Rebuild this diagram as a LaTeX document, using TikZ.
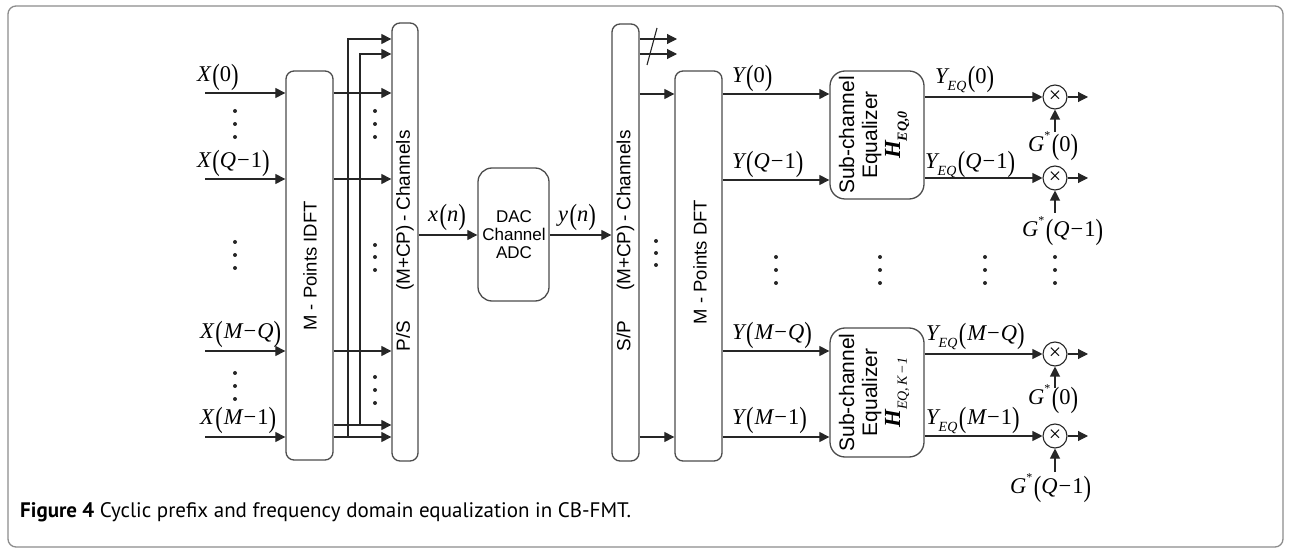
\documentclass[tikz,border=0pt]{standalone}
\usepackage{fontspec}
\usepackage{graphicx}
\setmainfont{Liberation Sans}
\newfontfamily\tmf{Liberation Serif}
\newfontfamily\capfont{PT Sans}
\usetikzlibrary{arrows.meta}
\newcommand{\mylp}{\kern1.5pt\raisebox{-0.12em}{\scalebox{1}[1.3]{(}}}
\newcommand{\myrp}{\raisebox{-0.12em}{\scalebox{1}[1.3]{)}}}
\newcommand{\mns}{\kern1pt−\kern1pt}
\newcommand{\lsub}[1]{\raisebox{-0.3em}{\fontsize{14}{14}\selectfont\itshape #1}}
\newcommand{\lsup}[1]{\raisebox{0.55em}{\fontsize{12}{12}\selectfont #1}}
\tikzset{
  box/.style={draw=black!70, line width=1.3pt, rounded corners=8pt, inner sep=0pt},
  arr/.style={draw=black!85, line width=1.1pt, -{Triangle[length=10pt,width=10pt]}},
  ln/.style={draw=black!85, line width=1.1pt},
  lab/.style={font=\tmf\fontsize{22.5}{22.5}\selectfont, inner sep=0pt},
  btxt/.style={inner sep=0pt, rotate=90},
  mult/.style={circle, draw=black!85, line width=1.1pt, minimum size=24pt, inner sep=0pt, font=\tmf\fontsize{22}{22}\selectfont},
  dotc/.style={fill=black!85}
}
\begin{document}
\begin{tikzpicture}[x=1pt,y=-1pt]
\useasboundingbox (0,0) rectangle (1291,553);
\draw[black!45, line width=1.3pt, rounded corners=8pt] (8,6) rectangle (1283,547);

% blocks
\node[box, minimum width=47pt, minimum height=389pt] (idft) at (309.5,265.5) {};
\node[box, minimum width=26pt, minimum height=438pt] (ps) at (405,242) {};
\node[box, rounded corners=14pt, minimum width=71pt, minimum height=133pt] (dac) at (513.5,234.5) {};
\node[box, minimum width=27pt, minimum height=437pt] (sp) at (625.5,242.5) {};
\node[box, minimum width=47pt, minimum height=390pt] (dft) at (698.5,266) {};
\node[box, rounded corners=15pt, minimum width=94pt, minimum height=128pt] (eq1) at (877,135) {};
\node[box, rounded corners=15pt, minimum width=94pt, minimum height=129pt] (eq2) at (877,392.5) {};

% block texts
\node[btxt, font=\fontsize{18.5}{18.5}\selectfont] (idftt) at (310,266) {M - Points IDFT};
\node[btxt, font=\fontsize{18.5}{18.5}\selectfont] (dftt) at (700,262) {M - Points DFT};
\node[btxt, font=\fontsize{19}{19}\selectfont] (pst) at (405,241) {P/S\hspace{30pt}(M+CP)\hspace{4pt}-\hspace{4pt}Channels};
\node[btxt, font=\fontsize{19}{19}\selectfont] (spt) at (625.5,241) {S/P\hspace{30pt}(M+CP)\hspace{4pt}-\hspace{4pt}Channels};
\node[inner sep=0pt, align=center, font=\fontsize{17}{18}\selectfont] (dact) at (514,234.5) {DAC\\Channel\\ADC};
\node[btxt, align=center, font=\fontsize{21}{23}\selectfont] (eq1t) at (874,135) {Sub-channel\\Equalizer\\[0pt]{\tmf\fontsize{23}{23}\selectfont\bfseries\itshape H\raisebox{-0.3em}{\fontsize{14}{14}\selectfont EQ,0}}};
\node[btxt, align=center, font=\fontsize{21}{23}\selectfont] (eq2t) at (874,392.5) {Sub-channel\\Equalizer\\[0pt]{\tmf\fontsize{23}{23}\selectfont\bfseries\itshape H\raisebox{-0.3em}{\fontsize{14}{14}\selectfont\mdseries EQ,\,K\mns1}}};

% multipliers
\node[mult] (m1) at (1055,97) {×};
\node[mult] (m2) at (1055,178) {×};
\node[mult] (m3) at (1055,354) {×};
\node[mult] (m4) at (1055,436) {×};

% helper levels
\foreach \yy in {39,54,93,94,97,178,179,180,235,351,354,425,436,437}{\coordinate (r\yy) at (0,\yy);}
\coordinate (cpA) at (348,0);
\coordinate (cpB) at (360,0);

% inputs
\coordinate (xin0) at (205,93);
\coordinate (xin1) at (205,179);
\coordinate (xin2) at (205,351);
\coordinate (xin3) at (205,437);
\foreach \i in {0,1,2,3}{\draw[arr] (xin\i) -- (xin\i -| idft.west);}

% IDFT -> P/S
\draw[arr] (idft.east |- r93) -- (ps.west |- r93);
\draw[arr] (idft.east |- r179) -- (ps.west |- r179);
\draw[arr] (idft.east |- r351) -- (ps.west |- r351);
\draw[arr] (idft.east |- r425) -- (ps.west |- r425);
\draw[arr] (idft.east |- r437) -- (ps.west |- r437);
\draw[arr] (cpA |- r437) -- (cpA |- r39) -- (ps.west |- r39);
\draw[arr] (cpB |- r425) -- (cpB |- r54) -- (ps.west |- r54);

% P/S -> DAC -> S/P
\draw[arr] (ps.east |- r235) -- (dac.west |- r235);
\draw[arr] (dac.east |- r235) -- (sp.west |- r235);

% S/P outputs
\coordinate (spo1) at (677,39);
\coordinate (spo2) at (677,54);
\draw[arr] (sp.east |- r39) -- (spo1);
\draw[arr] (sp.east |- r54) -- (spo2);
\coordinate (sl1) at (647,65);
\coordinate (sl2) at (657,28);
\draw[ln] (sl1) -- (sl2);
\draw[arr] (sp.east |- r94) -- (dft.west |- r94);
\draw[arr] (sp.east |- r437) -- (dft.west |- r437);

% DFT -> equalizers
\draw[arr] (dft.east |- r94) -- (eq1.west |- r94);
\draw[arr] (dft.east |- r180) -- (eq1.west |- r180);
\draw[arr] (dft.east |- r351) -- (eq2.west |- r351);
\draw[arr] (dft.east |- r437) -- (eq2.west |- r437);

% equalizers -> multipliers
\draw[arr] (eq1.east |- m1) -- (m1);
\draw[arr] (eq1.east |- m2) -- (m2);
\draw[arr] (eq2.east |- m3) -- (m3);
\draw[arr] (eq2.east |- m4) -- (m4);

% multiplier outputs
\coordinate (o1) at (1088,97);
\coordinate (o2) at (1088,178);
\coordinate (o3) at (1088,354);
\coordinate (o4) at (1088,436);
\draw[arr] (m1) -- (o1);
\draw[arr] (m2) -- (o2);
\draw[arr] (m3) -- (o3);
\draw[arr] (m4) -- (o4);

% G inputs
\coordinate (g1) at (1055,132);
\coordinate (g2) at (1055,213);
\coordinate (g3) at (1055,388);
\coordinate (g4) at (1055,472);
\draw[arr] (g1) -- (m1);
\draw[arr] (g2) -- (m2);
\draw[arr] (g3) -- (m3);
\draw[arr] (g4) -- (m4);

% labels
\node[lab, anchor=south west] (lx0) at (197,91) {\itshape X\upshape\mylp 0\myrp};
\node[lab, anchor=south west] (lx1) at (197,177) {\itshape X\upshape\mylp\itshape Q\upshape\mns 1\myrp};
\node[lab, anchor=south west] (lx2) at (200,348) {\itshape X\upshape\mylp\kern1pt\itshape M\upshape\mns\itshape Q\upshape\myrp};
\node[lab, anchor=south west] (lx3) at (200,434) {\itshape X\upshape\mylp\kern1pt\itshape M\upshape\mns 1\myrp};
\node[lab] (lxn) at (447,217) {\itshape x\upshape\mylp\itshape n\upshape\myrp};
\node[lab] (lyn) at (577,217) {\itshape y\upshape\mylp\itshape n\upshape\myrp};
\node[lab, anchor=south west] (ly0) at (732,92) {\itshape Y\upshape\mylp 0\myrp};
\node[lab, anchor=south west] (ly1) at (732,178) {\itshape Y\upshape\mylp\itshape Q\upshape\mns 1\myrp};
\node[lab, anchor=south west] (ly2) at (732,349) {\itshape Y\upshape\mylp\kern1pt\itshape M\upshape\mns\itshape Q\upshape\myrp};
\node[lab, anchor=south west] (ly3) at (732,434) {\itshape Y\upshape\mylp\kern1pt\itshape M\upshape\mns 1\myrp};
\node[lab, anchor=south west] (le0) at (935,93) {\itshape Y\lsub{EQ}\upshape\mylp 0\myrp};
\node[lab, anchor=south west] (le1) at (925,178) {\itshape Y\lsub{EQ}\upshape\mylp\itshape Q\upshape\mns 1\myrp};
\node[lab, anchor=south west] (le2) at (926,350) {\itshape Y\lsub{EQ}\upshape\mylp\kern1pt\itshape M\upshape\mns\itshape Q\upshape\myrp};
\node[lab, anchor=south west] (le3) at (926,434) {\itshape Y\lsub{EQ}\upshape\mylp\kern1pt\itshape M\upshape\mns 1\myrp};
\node[lab, anchor=south west] (lg1) at (1028,161) {\itshape G\upshape\lsup{*}\mylp 0\myrp};
\node[lab, anchor=south west] (lg2) at (1022,246) {\itshape G\upshape\lsup{*}\mylp\itshape Q\upshape\mns 1\myrp};
\node[lab, anchor=south west] (lg3) at (1028,414) {\itshape G\upshape\lsup{*}\mylp 0\myrp};
\node[lab, anchor=south west] (lg4) at (1010,503) {\itshape G\upshape\lsup{*}\mylp\itshape Q\upshape\mns 1\myrp};

% dots
\foreach \x/\y in {235/111,235/124,235/137, 235/242,235/255,235/268, 235/373,235/386,235/399,
                   375/111,375/124,375/137, 375/245,375/257,375/270, 375/377,375/390,375/403,
                   656/241,656/253,656/265,
                   776/257,776/270,776/283, 880/257,880/270,880/283, 985/257,985/270,985/283, 1055/257,1055/270,1055/283}
  {\fill[dotc] (\x,\y) circle (2pt);}

% caption
\node[anchor=base west, inner sep=0pt, font=\capfont\fontsize{21}{21}\selectfont] (cap) at (20,517) {\textbf{Figure 4} Cyclic prefix and frequency domain equalization in CB-FMT.};
\end{tikzpicture}
\end{document}
